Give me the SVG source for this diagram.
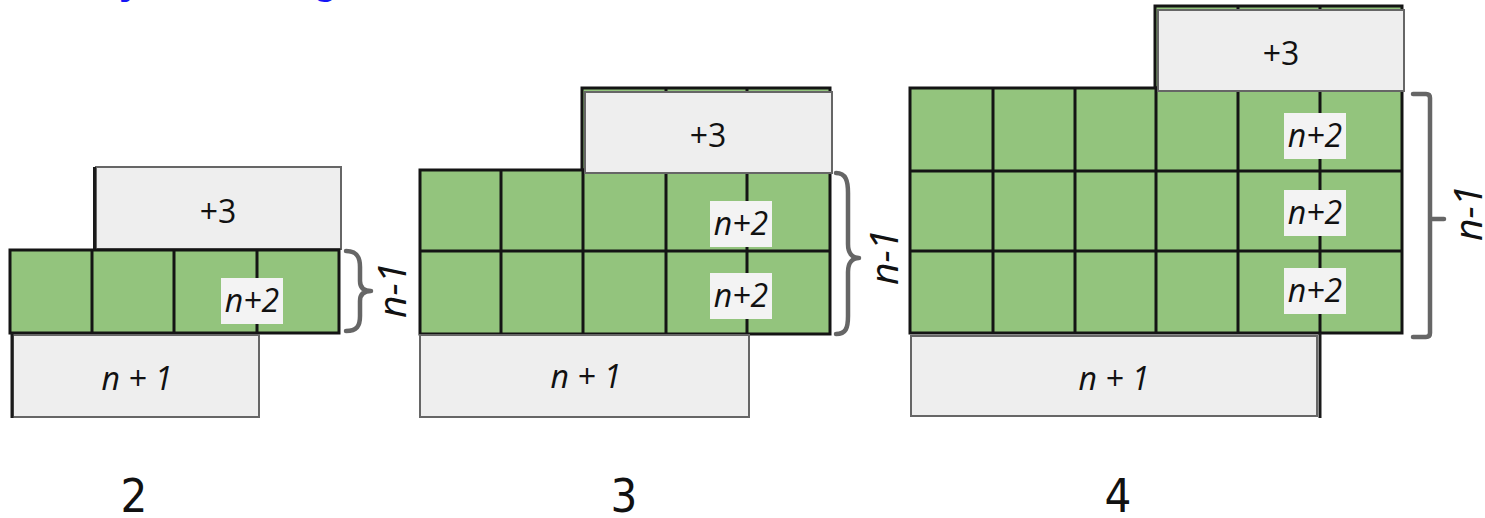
<svg xmlns="http://www.w3.org/2000/svg" width="1485" height="518" viewBox="0 0 1485 518">
<style>
.title{font-family:"Liberation Sans",Arial,sans-serif;font-weight:bold;font-size:40px;fill:#1515f5}
.green{fill:#93c47d;stroke:#141414;stroke-width:3}
.gl{stroke:#141414;stroke-width:3;fill:none}
.box{fill:#eeeeee;stroke:#666666;stroke-width:2}
.dark{stroke:#1a1a1a;stroke-width:3;fill:none}
.lbl{fill:#f3f3f3}
.t{font-family:"Open Sans","Liberation Sans",sans-serif;font-size:32px;fill:#111;text-anchor:middle}
.ti{font-family:"Open Sans","Liberation Sans",sans-serif;font-style:italic;font-size:32px;fill:#111;text-anchor:middle}
.nm1{font-family:"Open Sans","Liberation Sans",sans-serif;font-style:italic;font-size:39px;fill:#111;text-anchor:middle}
.brace{fill:none;stroke:#666666;stroke-width:4.5;stroke-linecap:round;stroke-linejoin:round}
.num{font-family:"Liberation Sans Narrow","DejaVu Sans Condensed","DejaVu Sans",sans-serif;font-stretch:condensed;font-size:47px;fill:#111;text-anchor:middle}
</style>
<rect width="1485" height="518" fill="#ffffff"/>
<g id="title">
<text class="title" x="119" y="-6">y</text>
<text class="title" x="313" y="-6">g</text>
</g>

<g id="fig2">
<rect class="box" x="96" y="167" width="245" height="82"/>
<line class="dark" x1="94.5" y1="167" x2="94.5" y2="250"/>
<text class="t" x="218" y="223">+3</text>
<rect class="green" x="10" y="250" width="329" height="83"/>
<path class="gl" d="M92,250V333M174,250V333M257,250V333"/>
<rect class="lbl" x="221" y="278" width="62" height="46"/>
<text class="ti" x="252" y="312">n+2</text>
<rect class="box" x="13" y="335" width="246" height="82"/>
<line class="dark" x1="12" y1="333" x2="12" y2="418"/>
<text class="ti" x="137" y="390">n + 1</text>
<path class="brace" d="M346,251 C357,251 360,257 360,267 L360,281 C360,288 364,291 371,291 C364,291 360,294 360,301 L360,316 C360,326 357,331 346,331"/>
<text class="nm1" transform="translate(406,290) rotate(-90)">n-1</text>
<text class="num" x="134" y="512">2</text>
</g>

<g id="fig3">
<rect class="green" x="582" y="88" width="248" height="82"/>
<path class="gl" d="M666,88V170M747,88V170"/>
<rect class="green" x="420" y="170" width="410" height="164"/>
<path class="gl" d="M501,170V334M583,170V334M666,170V334M747,170V334M420,251H830"/>
<rect class="box" x="585" y="92" width="247" height="81"/>
<text class="t" x="708" y="147">+3</text>
<rect class="lbl" x="710" y="201" width="62" height="46"/>
<text class="ti" x="741" y="235">n+2</text>
<rect class="lbl" x="710" y="273" width="62" height="46"/>
<text class="ti" x="741" y="307">n+2</text>
<rect class="box" x="420" y="335" width="329" height="82"/>
<text class="ti" x="586" y="388">n + 1</text>
<path class="brace" d="M836,173 C846,173 848,181 848,193 L848,244 C848,253 852,258 859,258 C852,258 848,263 848,272 L848,316 C848,328 846,334 836,334"/>
<text class="nm1" transform="translate(898,257) rotate(-90)">n-1</text>
<text class="num" x="624" y="512">3</text>
</g>

<g id="fig4">
<rect class="green" x="1155" y="6" width="247" height="82"/>
<path class="gl" d="M1238,6V88M1320,6V88"/>
<rect class="green" x="910" y="88" width="492" height="245"/>
<path class="gl" d="M993,88V333M1075,88V333M1156,88V333M1238,88V333M1320,88V333M910,171H1402M910,251H1402"/>
<rect class="box" x="1158" y="10" width="246" height="81"/>
<text class="t" x="1281" y="65">+3</text>
<rect class="lbl" x="1284" y="113" width="62" height="46"/>
<text class="ti" x="1315" y="147">n+2</text>
<rect class="lbl" x="1284" y="190" width="62" height="46"/>
<text class="ti" x="1315" y="224">n+2</text>
<rect class="lbl" x="1284" y="268" width="62" height="46"/>
<text class="ti" x="1315" y="302">n+2</text>
<rect class="box" x="911" y="336" width="406" height="80"/>
<line class="dark" x1="1320" y1="333" x2="1320" y2="418"/>
<text class="ti" x="1114" y="390">n + 1</text>
<path class="brace" d="M1413,94 L1426,94 Q1430,94 1430,98 L1430,333 Q1430,337 1426,337 L1413,337 M1430,219 L1444,219"/>
<text class="nm1" transform="translate(1482,213) rotate(-90)">n-1</text>
<text class="num" x="1118" y="512">4</text>
</g>
</svg>
